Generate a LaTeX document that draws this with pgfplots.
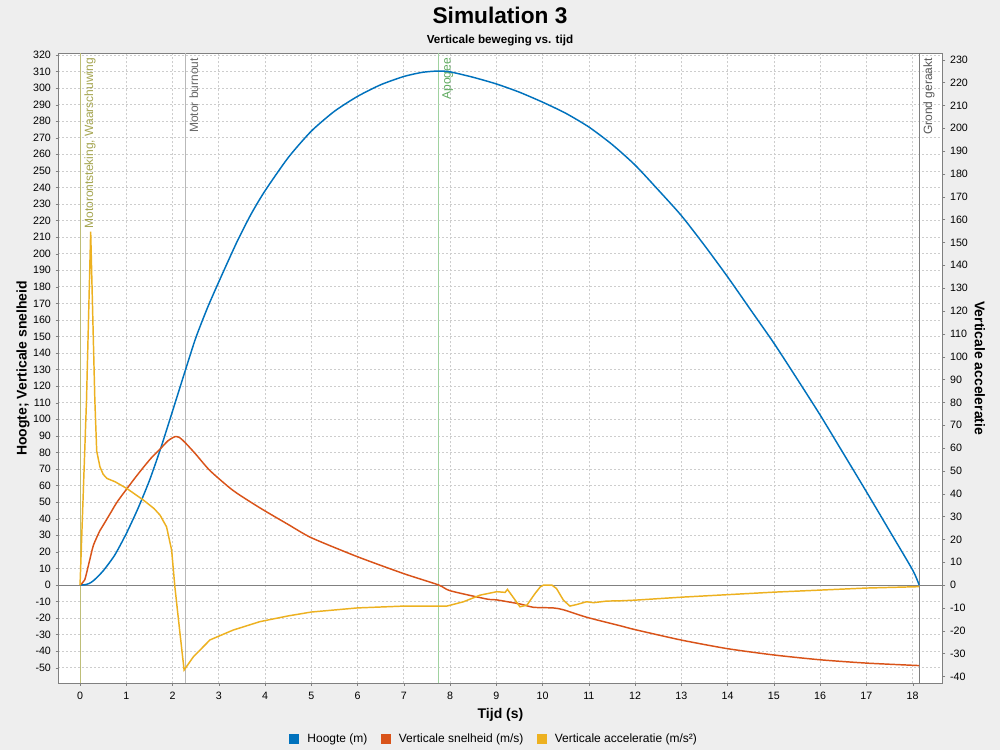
\documentclass[border=0pt]{standalone}
\usepackage{pgfplots}
\pgfplotsset{compat=1.18}
\usepackage{fontspec}
\setmainfont{Liberation Sans}
\definecolor{hblue}{RGB}{0,114,189}
\definecolor{vorange}{RGB}{217,83,25}
\definecolor{ayellow}{RGB}{237,177,32}
\definecolor{bgc}{RGB}{238,238,238}
\definecolor{framec}{RGB}{128,128,128}
\definecolor{gridc}{RGB}{205,205,205}
\definecolor{olivel}{RGB}{190,190,120}
\definecolor{olivet}{RGB}{165,165,80}
\definecolor{burnl}{RGB}{185,185,185}
\definecolor{burnt}{RGB}{105,105,105}
\definecolor{apol}{RGB}{160,210,160}
\definecolor{apot}{RGB}{95,170,95}
\definecolor{grondl}{RGB}{125,125,125}
\definecolor{grondt}{RGB}{90,90,90}
\begin{document}
\begin{tikzpicture}[x=0.75pt,y=0.75pt]
\fill[bgc] (0,0) rectangle (1000,750);
\node[font=\bfseries\fontsize{17}{20}\selectfont] at (500,734.5) {Simulation 3};
\node[font=\bfseries\fontsize{8.75}{10}\selectfont, anchor=base] at (500,706.7) {Verticale beweging vs. tijd};
\begin{axis}[
  at={(43.725pt,50.025pt)}, anchor=south west, scale only axis,
  width=663.3pt, height=472.5pt,
  xmin=-0.47, xmax=18.65, ymin=-59.4, ymax=321.0,
  axis background/.style={fill=white},
  axis line style={framec},
  xtick={0,1,...,18}, ytick={-50,-40,...,320},
  xtick pos=bottom, ytick pos=left,
  tick align=outside, major tick length=2pt,
  tick style={framec},
  grid=major,
  major grid style={gridc, dash pattern=on 1.5pt off 1.5pt, line width=0.5pt},
  /pgf/number format/assume math mode=true,
  ticklabel style={font=\fontsize{8}{9}\selectfont},
  xticklabel style={yshift=-1pt},
  xlabel={Tijd (s)},
  xlabel style={at={(axis description cs:0.5,-0.0556)}, anchor=base, font=\bfseries\fontsize{10.5}{12}\selectfont},
  ylabel={Hoogte; Verticale snelheid},
  ylabel style={at={(axis description cs:-0.0357,0.5)}, anchor=base, rotate=0, font=\bfseries\fontsize{10.5}{12}\selectfont},
  legend style={at={(axis description cs:0.4932,-0.0884)}, anchor=center, draw=none, fill=none,
    font=\fontsize{9}{10}\selectfont, legend columns=3,
    /tikz/every odd column/.append style={column sep=4pt},
    /tikz/every even column/.append style={column sep=8pt}},
  legend image code/.code={\fill[#1,draw=none] (0pt,-3.75pt) rectangle (7.5pt,3.75pt);},
  clip=true,
]
% zero line and event lines
\draw[framec, line width=0.6pt] (axis cs:-0.47,0) -- (axis cs:18.65,0);
\draw[olivel, line width=0.75pt] (axis cs:0,-59.4) -- (axis cs:0,321);
\draw[burnl, line width=0.75pt] (axis cs:2.27,-59.4) -- (axis cs:2.27,321);
\draw[apol, line width=0.75pt] (axis cs:7.74,-59.4) -- (axis cs:7.74,321);
\draw[grondl, line width=0.75pt] (axis cs:18.14,-59.4) -- (axis cs:18.14,321);
\node[xshift=2pt, yshift=-2.5pt, rotate=90, olivet, anchor=north east, inner sep=1pt, font=\fontsize{9}{10}\selectfont] at (axis cs:0,321) {Motorontsteking, Waarschuwing};
\node[xshift=2pt, yshift=-2.5pt, rotate=90, burnt, anchor=north east, inner sep=1pt, font=\fontsize{9}{10}\selectfont] at (axis cs:2.27,321) {Motor burnout};
\node[xshift=2pt, yshift=-2.5pt, rotate=90, apot, anchor=north east, inner sep=1pt, font=\fontsize{9}{10}\selectfont] at (axis cs:7.74,321) {Apogee};
\node[xshift=2pt, yshift=-2.5pt, rotate=90, grondt, anchor=north east, inner sep=1pt, font=\fontsize{9}{10}\selectfont] at (axis cs:18.14,321) {Grond geraakt};
\addplot[color=hblue, line width=1.1pt, smooth, tension=0.4] coordinates {
(0,0) (0.1,0.1) (0.2,0.9) (0.3,2.8) (0.5,8.5) (0.75,18) (1.0,31) (1.25,46) (1.5,63) (1.75,83) (2.0,105) (2.27,129) (2.5,149) (2.75,167) (3.0,183) (3.39,207) (3.7,224) (4.0,238) (4.5,258) (5.0,274) (5.5,286) (6.0,295) (6.5,302) (7.0,307) (7.4,309.5) (7.74,310.3) (8.0,309.8) (8.5,306.5) (9.0,302.5) (9.5,297.5) (10,291.5) (10.5,284.8) (11,276.5) (11.5,266) (12,253.5) (12.5,238.5) (13,223) (13.5,205) (14,186) (14.5,166) (15,146) (15.5,124.5) (16,102.6) (16.5,79.5) (17,56.3) (17.5,32.7) (18,9) (18.14,0)
};
\addlegendentry{Hoogte (m)}
\addplot[color=vorange, line width=1.1pt, smooth, tension=0.4] coordinates {
(0,0) (0.1,3) (0.2,14) (0.29,24) (0.43,32.8) (0.5,36) (0.65,43) (0.8,50) (1.01,58) (1.2,65) (1.37,71) (1.55,77) (1.73,82) (1.9,87) (2.05,89.5) (2.15,89) (2.27,86) (2.5,79) (2.81,69) (3.31,57) (3.89,46.5) (4.5,36.5) (5.0,28.5) (6.0,17) (7.0,6.8) (7.75,0) (8.0,-3.5) (8.79,-8.5) (9.0,-9) (9.51,-11.5) (9.8,-13.5) (10.23,-13.9) (10.45,-15) (10.95,-19.5) (11.67,-24.6) (12,-27) (13,-33.3) (14,-38.5) (15,-42.3) (16,-45.2) (17,-47.2) (18.14,-48.7)
};
\addlegendentry{Verticale snelheid (m/s)}
\addlegendimage{color=ayellow}
\addlegendentry{Verticale acceleratie (m/s²)}
\end{axis}
\begin{axis}[
  at={(43.725pt,50.025pt)}, anchor=south west, scale only axis,
  width=663.3pt, height=472.5pt,
  xmin=-0.47, xmax=18.65, ymin=-43.0, ymax=232.8,
  axis x line=none, axis y line*=right,
  axis line style={framec},
  ytick={-40,-30,...,230},
  tick align=outside, major tick length=2pt,
  tick style={framec},
  /pgf/number format/assume math mode=true,
  ticklabel style={font=\fontsize{8}{9}\selectfont},
  ylabel={Verticale acceleratie},
  ylabel style={at={(axis description cs:1.0365,0.5)}, anchor=base, rotate=180, font=\bfseries\fontsize{10.5}{12}\selectfont},
  clip=true,
]
\addplot[color=ayellow, line width=1.1pt] coordinates {
(0,0) (0.14,81) (0.23,154.7) (0.32,81) (0.36,58.7) (0.43,51.8) (0.5,48.5) (0.58,46.7) (0.76,45.2) (1.01,42.3) (1.37,37.2) (1.6,33.5) (1.73,30.6) (1.87,25.5) (1.98,15.3) (2.05,-0.7) (2.16,-21) (2.25,-37.2) (2.45,-31.4) (2.81,-24) (3.31,-19.7) (3.89,-16) (4.5,-13.5) (5,-11.8) (6,-10) (7,-9.2) (7.93,-9.2) (8.29,-7.3) (8.65,-4.4) (9.01,-2.9) (9.19,-3.2) (9.24,-1.9) (9.33,-4.4) (9.51,-9.5) (9.66,-8.8) (9.84,-3.6) (9.95,-0.8) (10.02,0) (10.2,0) (10.3,-1.5) (10.45,-6.6) (10.59,-9.2) (10.74,-8.5) (10.95,-7.3) (11.1,-7.7) (11.39,-7) (11.67,-6.9) (12,-6.6) (13,-5.3) (14,-4.2) (15,-3.1) (16,-2.2) (17,-1.3) (18.14,-0.7)
};
\end{axis}
\pgfresetboundingbox
\useasboundingbox (0,0) rectangle (1000,750);
\end{tikzpicture}
\end{document}
